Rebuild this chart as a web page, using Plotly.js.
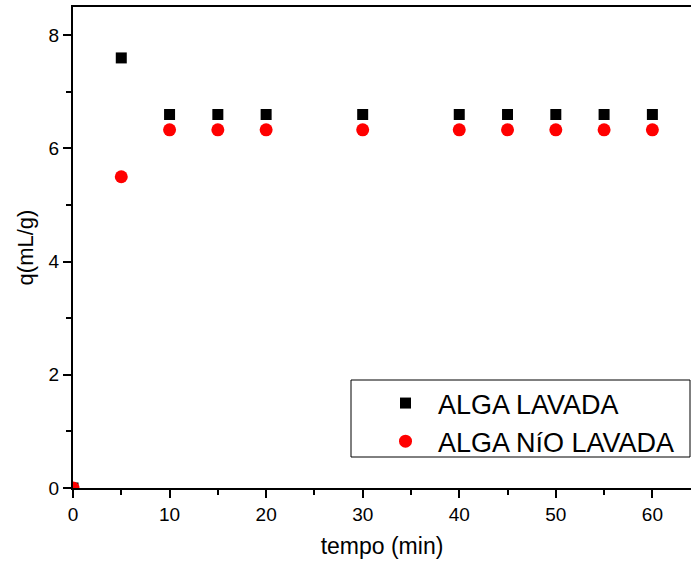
<!DOCTYPE html>
<html>
<head>
<meta charset="utf-8">
<script src="https://cdn.plot.ly/plotly-3.0.1.min.js"></script>
<style>html,body{margin:0;padding:0;background:#fff;}#chart{width:691px;height:562px;}</style>
</head>
<body>
<div id="chart"></div>
<script>
const tempo = [0, 5, 10, 15, 20, 30, 40, 45, 50, 55, 60];
const algaLavada = [0, 7.6, 6.6, 6.6, 6.6, 6.6, 6.6, 6.6, 6.6, 6.6, 6.6];
const algaNaoLavada = [0, 5.5, 6.33, 6.33, 6.33, 6.33, 6.33, 6.33, 6.33, 6.33, 6.33];
const seriesNames = ["ALGA LAVADA", "ALGA N\u00EDO LAVADA"];
const xTicks = [0, 10, 20, 30, 40, 50, 60];
const yTicks = [0, 2, 4, 6, 8];

const traces = [
  {x: tempo, y: algaLavada, name: seriesNames[0], type: 'scatter', mode: 'markers',
   marker: {symbol: 'square', size: 11, color: '#000000'}},
  {x: tempo, y: algaNaoLavada, name: seriesNames[1], type: 'scatter', mode: 'markers',
   marker: {symbol: 'circle', size: 13, color: '#ff0000'}}
];

// plot area: x 73..691, y 7..488
const W = 618, H = 481;
const layout = {
  width: 691, height: 562,
  margin: {l: 73, r: 0, t: 7, b: 74},
  paper_bgcolor: '#fff', plot_bgcolor: '#fff',
  font: {family: '"Liberation Sans", Arial, sans-serif', color: '#000'},
  showlegend: true,
  legend: {x: (373 - 73) / W, y: (488 - 379) / H, xanchor: 'left', yanchor: 'top',
           borderwidth: 0, bgcolor: 'rgba(0,0,0,0)',
           font: {size: 27, color: '#000'}, itemwidth: 55, tracegroupgap: 0},
  shapes: [{type: 'rect', xref: 'paper', yref: 'paper', layer: 'above',
            x0: (351 - 73) / W, x1: (690 - 73) / W, y0: (488 - 457) / H, y1: (488 - 380) / H,
            line: {color: '#000', width: 1}, fillcolor: '#fff'}],
  xaxis: {range: [0, 64], tickvals: xTicks, ticktext: xTicks.map(String),
          showgrid: false, zeroline: false, showline: true, linecolor: '#000', linewidth: 2,
          mirror: true, ticks: 'outside', ticklen: 8, tickwidth: 2, tickcolor: '#000',
          minor: {dtick: 5, tick0: 0, ticks: 'outside', ticklen: 5, tickwidth: 2, tickcolor: '#000'},
          tickfont: {size: 19}, title: {text: 'tempo (min)', font: {size: 23}, standoff: 14}},
  yaxis: {range: [0, 8.5], tickvals: yTicks, ticktext: yTicks.map(String),
          showgrid: false, zeroline: false, showline: true, linecolor: '#000', linewidth: 2,
          mirror: false, ticks: 'outside', ticklen: 8, tickwidth: 2, tickcolor: '#000',
          minor: {dtick: 1, tick0: 0, ticks: 'outside', ticklen: 5, tickwidth: 2, tickcolor: '#000'},
          tickfont: {size: 19}, title: {text: 'q(mL/g)', font: {size: 22}, standoff: 9}}
};

Plotly.newPlot('chart', traces, layout, {displayModeBar: false, staticPlot: true});
</script>
</body>
</html>
